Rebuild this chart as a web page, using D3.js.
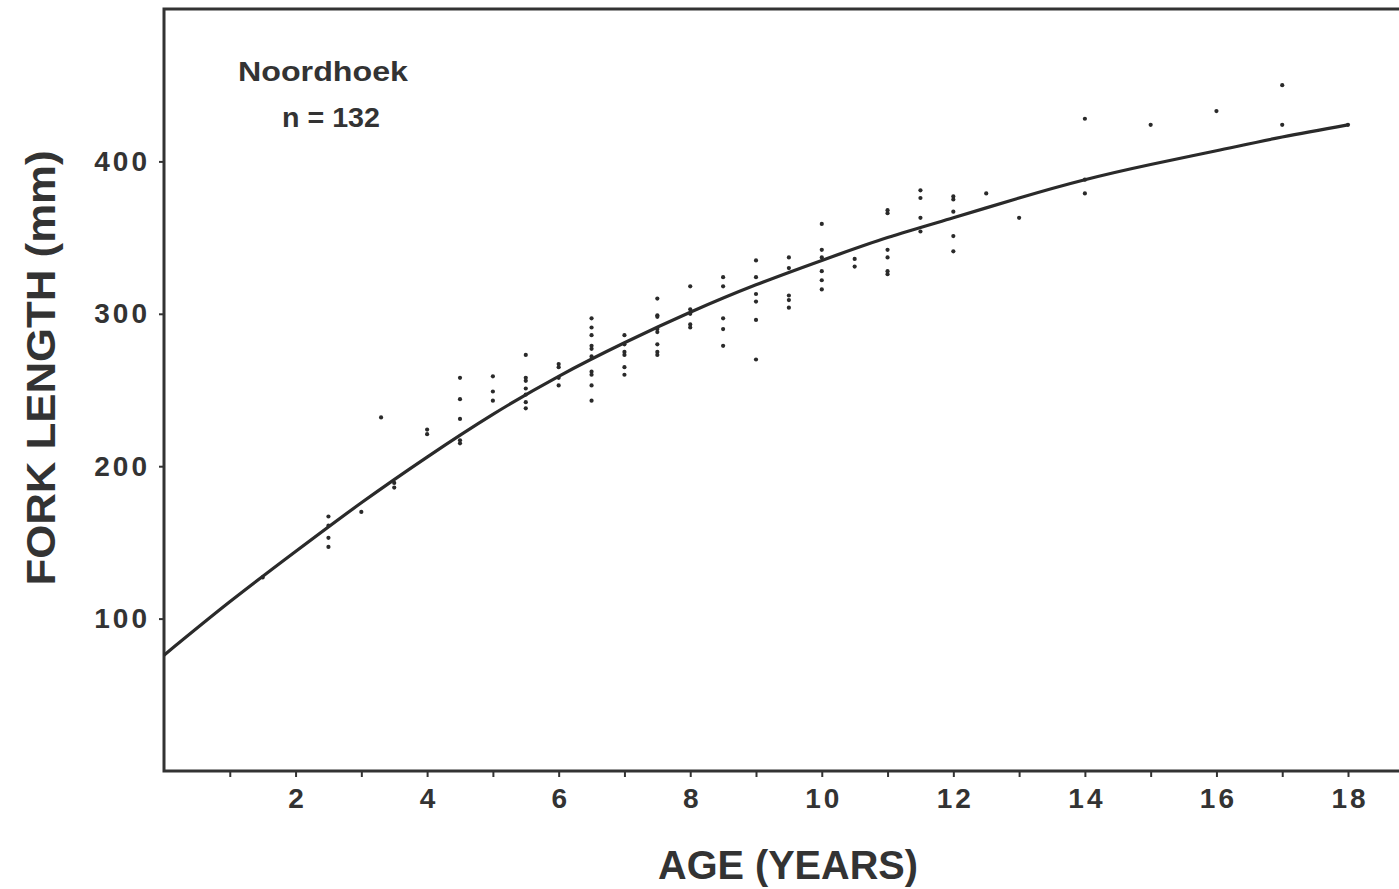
<!DOCTYPE html>
<html>
<head>
<meta charset="utf-8">
<script src="https://cdn.jsdelivr.net/npm/d3@7"></script>
<style>
    body { margin: 0; background: #fff; }
    svg { display: block; }
    .tick text { font-family: "Liberation Sans", Arial, sans-serif; font-weight: bold; fill: #333; letter-spacing: 3px; }
    .tick line { stroke: #333; stroke-width: 2; }
</style>
</head>
<body>
<svg width="1399" height="889"></svg>
<script>
// ages, with the fork lengths (mm) plotted at each age
var ageGroups = [1.5, 2.5, 3, 3.3, 3.5, 4, 4.5, 5, 5.5, 6, 6.5, 7, 7.5, 8, 8.5, 9, 9.5, 10,
    10.5, 11, 11.5, 12, 12.5, 13, 14, 15, 16, 17, 18];
var lengthsByAge = [
    [127],
    [167, 161, 153, 147],
    [170],
    [232],
    [189, 186],
    [224, 221],
    [258, 244, 231, 217, 215],
    [259, 249, 243],
    [273, 258, 256, 251, 247, 242, 238],
    [267, 265, 258, 253],
    [297, 291, 286, 279, 277, 272, 262, 260, 253, 243],
    [286, 280, 275, 273, 265, 260],
    [310, 299, 298, 290, 288, 280, 275, 273],
    [318, 303, 300, 293, 291],
    [324, 318, 297, 290, 279],
    [335, 324, 313, 308, 296, 270],
    [337, 330, 312, 309, 304],
    [359, 342, 337, 328, 322, 316],
    [336, 331],
    [368, 366, 342, 337, 328, 326],
    [381, 376, 363, 354],
    [377, 375, 367, 351, 341],
    [379],
    [363],
    [428, 388, 379],
    [424],
    [433],
    [450, 424],
    [424]
];

// growth curve, read at each whole year
var curveAges = [0, 1, 2, 3, 4, 5, 6, 7, 8, 9, 10, 11, 12, 13, 14, 15, 16, 17, 18];
var curveLengths = [76, 111, 144, 176, 206, 234, 259, 281, 301, 319, 335, 350, 363, 376, 388, 398, 407, 416, 424];

var xTicks = d3.range(1, 19);
var yTicks = [100, 200, 300, 400];

var svg = d3.select("svg");

var x = d3.scaleLinear().domain([0, 18]).range([164, 1348]);
var y = d3.scaleLinear().domain([0, 500]).range([771, 9]);

var ink = "#2a2a2a";

// frame (right side runs off the page)
svg.append("path")
    .attr("d", "M1420," + y(500) + "H" + x(0) + "V" + y(0) + "H1420")
    .attr("fill", "none")
    .attr("stroke", "#333")
    .attr("stroke-width", 3);

// axes
var xAxis = d3.axisBottom(x)
    .tickValues(xTicks)
    .tickSize(6)
    .tickPadding(11)
    .tickFormat(function (d) { return d % 2 === 0 ? d : ""; });

svg.append("g")
    .attr("transform", "translate(0," + y(0) + ")")
    .call(xAxis)
    .call(function (g) { g.select(".domain").remove(); })
    .selectAll("text").attr("font-size", 28).attr("dx", 1.5);

var yAxis = d3.axisLeft(y)
    .tickValues(yTicks)
    .tickSize(5)
    .tickPadding(9);

svg.append("g")
    .attr("transform", "translate(" + x(0) + ",0)")
    .call(yAxis)
    .call(function (g) { g.select(".domain").remove(); })
    .selectAll("text").attr("font-size", 28);

// points
var points = [];
ageGroups.forEach(function (a, i) {
    lengthsByAge[i].forEach(function (l) { points.push({ age: a, len: l }); });
});

svg.append("g").selectAll("circle")
    .data(points)
    .enter().append("circle")
    .attr("cx", function (d) { return x(d.age); })
    .attr("cy", function (d) { return y(d.len); })
    .attr("r", 2.1)
    .attr("fill", ink);

// growth curve
var line = d3.line()
    .x(function (d) { return x(d[0]); })
    .y(function (d) { return y(d[1]); })
    .curve(d3.curveNatural);

svg.append("path")
    .datum(d3.zip(curveAges, curveLengths))
    .attr("d", line)
    .attr("fill", "none")
    .attr("stroke", ink)
    .attr("stroke-width", 3.2);

// titles
var font = "'Liberation Sans', Arial, sans-serif";

svg.append("text")
    .attr("x", 323).attr("y", 81)
    .attr("text-anchor", "middle")
    .attr("font-family", font).attr("font-weight", "bold")
    .attr("font-size", 27).attr("fill", "#333")
    .attr("textLength", 170).attr("lengthAdjust", "spacingAndGlyphs")
    .text("Noordhoek");

svg.append("text")
    .attr("x", 331).attr("y", 127)
    .attr("text-anchor", "middle")
    .attr("font-family", font).attr("font-weight", "bold")
    .attr("font-size", 27).attr("fill", "#333")
    .attr("textLength", 98).attr("lengthAdjust", "spacingAndGlyphs")
    .text("n = 132");

svg.append("text")
    .attr("x", 788).attr("y", 879)
    .attr("text-anchor", "middle")
    .attr("font-family", font).attr("font-weight", "bold")
    .attr("font-size", 40).attr("fill", "#333")
    .attr("textLength", 260).attr("lengthAdjust", "spacingAndGlyphs")
    .text("AGE (YEARS)");

svg.append("text")
    .attr("transform", "translate(55,368) rotate(-90)")
    .attr("text-anchor", "middle")
    .attr("font-family", font).attr("font-weight", "bold")
    .attr("font-size", 40).attr("fill", "#333")
    .attr("textLength", 435).attr("lengthAdjust", "spacingAndGlyphs")
    .text("FORK LENGTH (mm)");
</script>
</body>
</html>
